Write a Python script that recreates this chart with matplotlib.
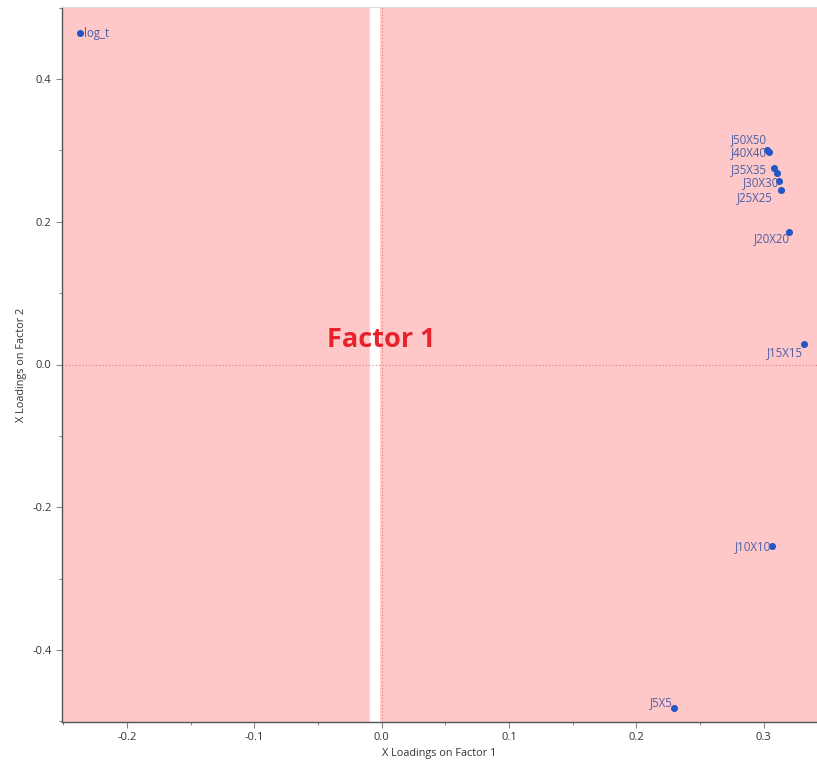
import matplotlib
matplotlib.use("Agg")
import matplotlib.pyplot as plt
from matplotlib.ticker import MultipleLocator

# ---- data ----
names = ["log_t", "J5X5", "J10X10", "J15X15", "J20X20", "J25X25",
         "J30X30", "J35X35", "J40X40", "J45X45", "J50X50"]
factor1 = [-0.237, 0.230, 0.307, 0.3315, 0.320, 0.3134,
           0.3119, 0.3103, 0.3079, 0.3040, 0.3024]
factor2 = [0.465, -0.481, -0.255, 0.029, 0.185, 0.245,
           0.2565, 0.2677, 0.2747, 0.2971, 0.2999]
hidden_labels = {"J45X45"}
x_ticks = [-0.2, -0.1, 0.0, 0.1, 0.2, 0.3]
y_ticks = [-0.4, -0.2, 0.0, 0.2, 0.4]

# label layout (offset in pixels, horizontal alignment)
label_layout = {
    "log_t": ((4, -1), "left"),
    "J50X50": ((0, 11), "right"),
    "J40X40": ((-7, 16), "right"),
    "J35X35": ((-10, 4), "right"),
    "J30X30": ((0, -1), "right"),
    "J25X25": ((-8, -8), "right"),
    "J20X20": ((1, -6), "right"),
    "J15X15": ((-1, -9), "right"),
    "J10X10": ((-1, 0), "right"),
    "J5X5": ((-2, 5), "right"),
}

plt.rcParams['font.family'] = ['Open Sans', 'DejaVu Sans']

fig = plt.figure(figsize=(8.17, 7.65), dpi=100)
ax = fig.add_axes([62/817, 43/765, 1 - 62/817, (722-7)/765])
ax.set_facecolor('#FFC8C8')

ax.set_xlim(-0.251, 0.342)
ax.set_ylim(-0.501, 0.501)

ax.axvspan(-0.0087, -0.0023, color='white', zorder=1)
ax.axvline(0, color='#E07878', linestyle=(0, (1, 2)), linewidth=0.8, zorder=2)
ax.axhline(0, color='#E07878', linestyle=(0, (1, 2)), linewidth=0.8, zorder=2)

ax.text(0.0, 0.034, "Factor 1", color='#E8222C', fontsize=19.5, fontweight='bold',
        ha='center', va='center', zorder=3)

ax.scatter(factor1, factor2, s=26, color='#2457C5', zorder=4, linewidths=0)

for n, x, y in zip(names, factor1, factor2):
    if n in hidden_labels:
        continue
    off, ha = label_layout[n]
    ax.annotate(n, (x, y), xytext=off, textcoords='offset pixels',
                ha=ha, va='center', fontsize=8.3, color='#4B5FA6', zorder=5)

ax.set_xticks(x_ticks)
ax.set_yticks(y_ticks)
ax.set_xticklabels([f"{v:.1f}" for v in x_ticks])
ax.set_yticklabels([f"{v:.1f}" for v in y_ticks])
ax.xaxis.set_minor_locator(MultipleLocator(0.05))
ax.yaxis.set_minor_locator(MultipleLocator(0.1))
ax.tick_params(which='major', direction='out', length=4, color='#888888',
               labelsize=8, labelcolor='#333333', width=0.8)
ax.tick_params(which='minor', direction='out', length=2.5, color='#888888', width=0.8)

for s in ['left', 'bottom']:
    ax.spines[s].set_color('#555555')
    ax.spines[s].set_linewidth(1.0)
ax.spines['top'].set_color('#DDDDDD')
ax.spines['top'].set_linewidth(0.8)
ax.spines['right'].set_visible(False)

ax.set_xlabel("X Loadings on Factor 1", fontsize=7.8, color='#333333', labelpad=3)
ax.set_ylabel("X Loadings on Factor 2", fontsize=7.8, color='#333333', labelpad=4)

fig.savefig("out.png", dpi=100)
